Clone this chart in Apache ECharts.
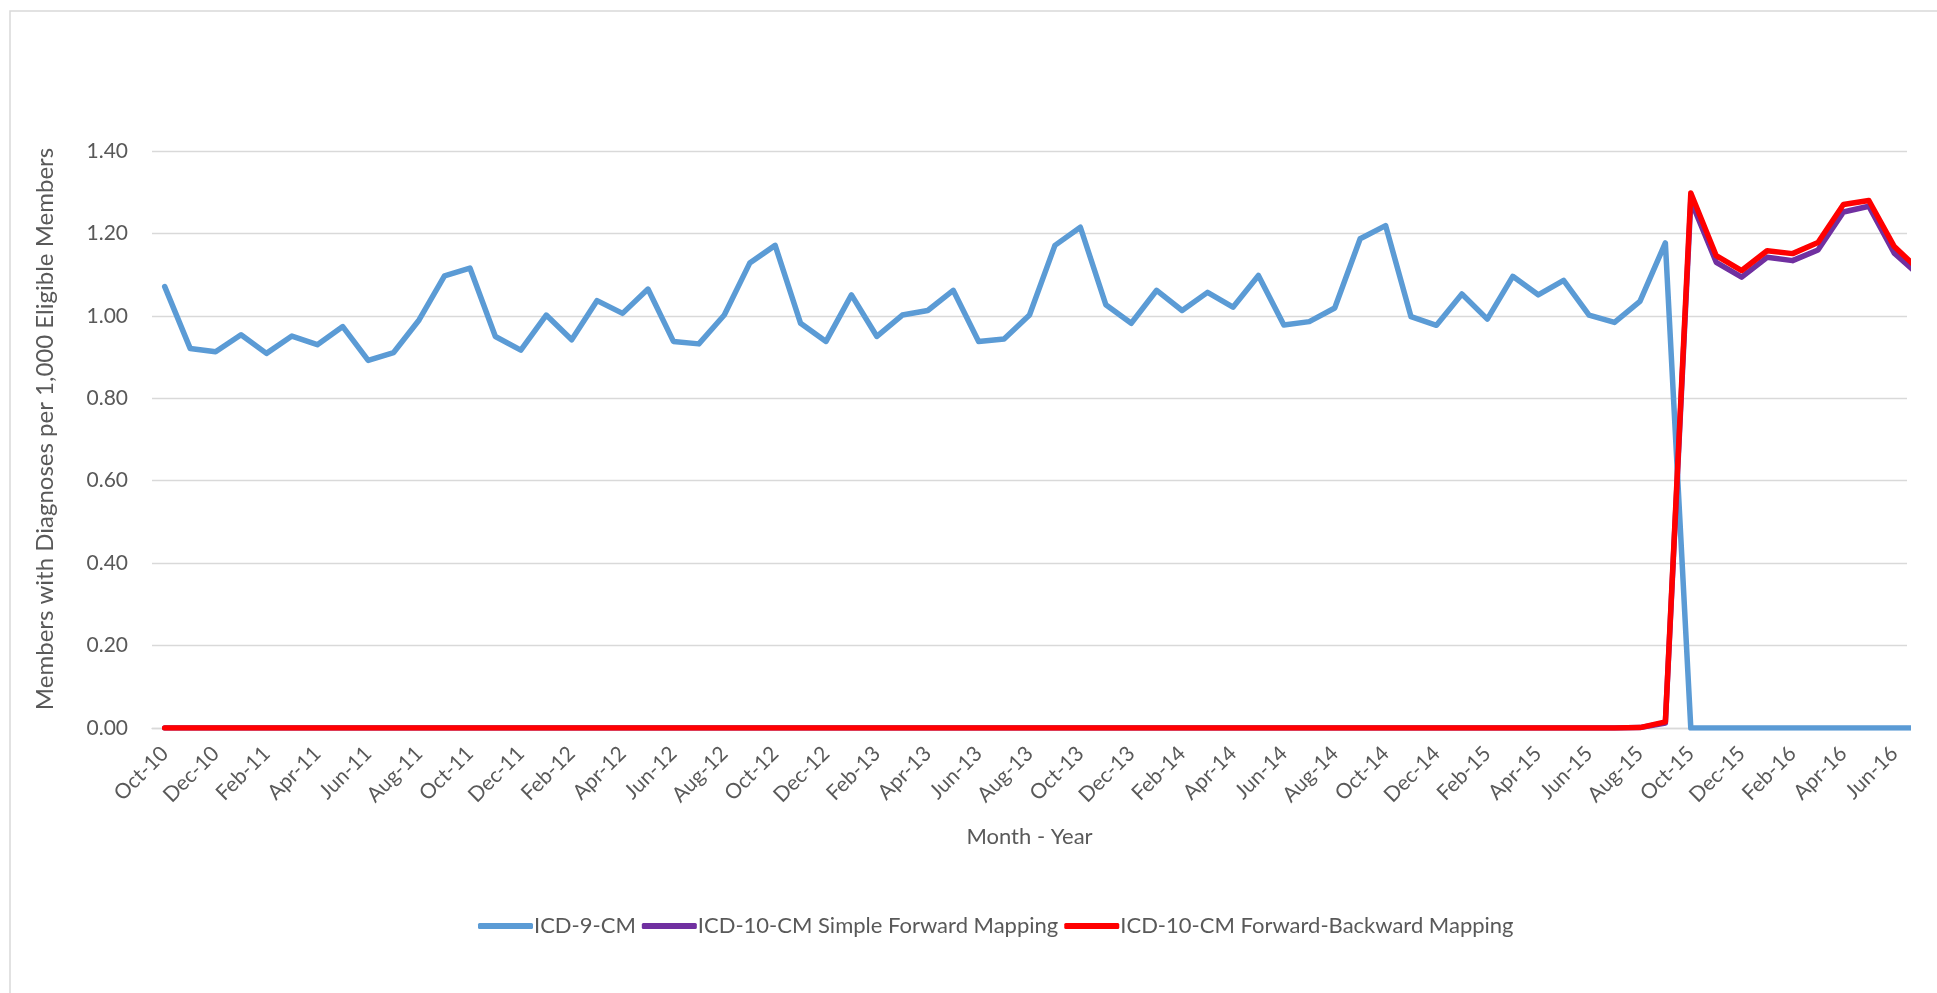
<!DOCTYPE html>
<html>
<head>
<meta charset="utf-8">
<title>Members with Diagnoses per 1,000 Eligible Members</title>
<script src="https://cdn.jsdelivr.net/npm/echarts@6/dist/echarts.min.js"></script>
<style>
  html, body { margin: 0; padding: 0; background: #fff; }
  #chart { width: 1937px; height: 993px; }
</style>
</head>
<body>
<div id="chart"></div>
<script>
// month labels, Oct-10 .. Jul-16 (the axis stops at Jun-16, Jul-16 only runs off the edge)
const months = [
  'Oct-10', 'Nov-10', 'Dec-10', 'Jan-11', 'Feb-11', 'Mar-11', 'Apr-11', 'May-11', 'Jun-11', 'Jul-11',
  'Aug-11', 'Sep-11', 'Oct-11', 'Nov-11', 'Dec-11', 'Jan-12', 'Feb-12', 'Mar-12', 'Apr-12', 'May-12',
  'Jun-12', 'Jul-12', 'Aug-12', 'Sep-12', 'Oct-12', 'Nov-12', 'Dec-12', 'Jan-13', 'Feb-13', 'Mar-13',
  'Apr-13', 'May-13', 'Jun-13', 'Jul-13', 'Aug-13', 'Sep-13', 'Oct-13', 'Nov-13', 'Dec-13', 'Jan-14',
  'Feb-14', 'Mar-14', 'Apr-14', 'May-14', 'Jun-14', 'Jul-14', 'Aug-14', 'Sep-14', 'Oct-14', 'Nov-14',
  'Dec-14', 'Jan-15', 'Feb-15', 'Mar-15', 'Apr-15', 'May-15', 'Jun-15', 'Jul-15', 'Aug-15', 'Sep-15',
  'Oct-15', 'Nov-15', 'Dec-15', 'Jan-16', 'Feb-16', 'Mar-16', 'Apr-16', 'May-16', 'Jun-16', 'Jul-16'
];

// labelled ticks (every second month)
const tickIdx = [0, 2, 4, 6, 8, 10, 12, 14, 16, 18, 20, 22, 24, 26, 28, 30, 32, 34,
  36, 38, 40, 42, 44, 46, 48, 50, 52, 54, 56, 58, 60, 62, 64, 66, 68];

const icd9 = [
  1.071, 0.921, 0.913, 0.954, 0.909, 0.951, 0.930, 0.974, 0.892, 0.911,
  0.990, 1.097, 1.116, 0.950, 0.917, 1.002, 0.942, 1.037, 1.006, 1.065,
  0.938, 0.932, 1.002, 1.128, 1.171, 0.982, 0.938, 1.051, 0.950, 1.002,
  1.013, 1.062, 0.938, 0.944, 1.002, 1.171, 1.215, 1.027, 0.982, 1.062,
  1.013, 1.057, 1.021, 1.098, 0.978, 0.986, 1.019, 1.187, 1.219, 0.998,
  0.977, 1.053, 0.992, 1.096, 1.051, 1.086, 1.002, 0.984, 1.035, 1.177,
  0, 0, 0, 0, 0, 0, 0, 0, 0, 0
];

const icd10Simple = [
  0, 0, 0, 0, 0, 0, 0, 0, 0, 0,
  0, 0, 0, 0, 0, 0, 0, 0, 0, 0,
  0, 0, 0, 0, 0, 0, 0, 0, 0, 0,
  0, 0, 0, 0, 0, 0, 0, 0, 0, 0,
  0, 0, 0, 0, 0, 0, 0, 0, 0, 0,
  0, 0, 0, 0, 0, 0, 0, 0, 0.001, 0.012,
  1.280, 1.130, 1.094, 1.142, 1.134, 1.160, 1.252, 1.266, 1.152, 1.097
];

const icd10FwdBwd = [
  0, 0, 0, 0, 0, 0, 0, 0, 0, 0,
  0, 0, 0, 0, 0, 0, 0, 0, 0, 0,
  0, 0, 0, 0, 0, 0, 0, 0, 0, 0,
  0, 0, 0, 0, 0, 0, 0, 0, 0, 0,
  0, 0, 0, 0, 0, 0, 0, 0, 0, 0,
  0, 0, 0, 0, 0, 0, 0, 0, 0.001, 0.015,
  1.298, 1.146, 1.110, 1.158, 1.151, 1.178, 1.270, 1.280, 1.168, 1.110
];

const seriesNames = ['ICD-9-CM', 'ICD-10-CM Simple Forward Mapping', 'ICD-10-CM Forward-Backward Mapping'];
const colors = ['#5B9BD5', '#7030A0', '#FF0000'];
const yTitle = 'Members with Diagnoses per 1,000 Eligible Members';

const FONT = 'Lato, "Open Sans", sans-serif';
const TXT = '#595959';

function toPoints(arr) {
  return arr.map((v, i) => [i, v]);
}

const chart = echarts.init(document.getElementById('chart'), null, { renderer: 'canvas' });

const option = {
  backgroundColor: '#fff',
  animation: false,
  textStyle: { fontFamily: FONT },
  graphic: [{
    type: 'rect',
    z: -10,
    shape: { x: 10, y: 11, width: 2000, height: 1000 },
    style: { fill: 'none', stroke: '#D9D9D9', lineWidth: 1.5 }
  }, {
    // y axis title, Excel puts it a bit above the plot's centre
    type: 'text',
    x: 45,
    y: 429,
    rotation: Math.PI / 2,
    style: {
      text: yTitle,
      fill: TXT,
      font: '24px ' + FONT,
      align: 'center',
      verticalAlign: 'middle'
    }
  }],
  grid: { left: 152, right: 30, top: 151, bottom: 265 },
  legend: {
    left: 473,
    top: 910,
    icon: 'roundRect',
    itemWidth: 55,
    itemHeight: 6,
    itemGap: 6,
    textStyle: { color: TXT, fontSize: 22, fontFamily: FONT, padding: [0, 0, 0, -4] },
    data: seriesNames
  },
  xAxis: {
    type: 'value',
    min: -0.5,
    max: 68.5,
    name: 'Month - Year',
    nameLocation: 'middle',
    nameGap: 98,
    nameTextStyle: { color: TXT, fontSize: 22, fontFamily: FONT },
    splitLine: { show: false },
    axisTick: { show: false },
    axisLine: { show: true, lineStyle: { color: '#D9D9D9', width: 1.3 } },
    axisLabel: {
      customValues: tickIdx,
      rotate: 45,
      margin: 22,
      color: TXT,
      fontSize: 21,
      fontFamily: FONT,
      formatter: v => months[v]
    }
  },
  yAxis: {
    type: 'value',
    min: 0,
    max: 1.4,
    interval: 0.2,
    axisLine: { show: false },
    axisTick: { show: false },
    splitLine: { lineStyle: { color: '#D9D9D9', width: 1.3 } },
    axisLabel: {
      margin: 24,
      color: TXT,
      fontSize: 21,
      fontFamily: FONT,
      formatter: v => v.toFixed(2)
    }
  },
  series: [icd9, icd10Simple, icd10FwdBwd].map((arr, k) => ({
    name: seriesNames[k],
    type: 'line',
    data: toPoints(arr),
    symbol: 'none',
    clip: true,
    color: colors[k],
    lineStyle: { color: colors[k], width: 5.5, cap: 'round', join: 'round' },
    z: 2 + k
  }))
};

chart.setOption(option);
</script>
</body>
</html>
